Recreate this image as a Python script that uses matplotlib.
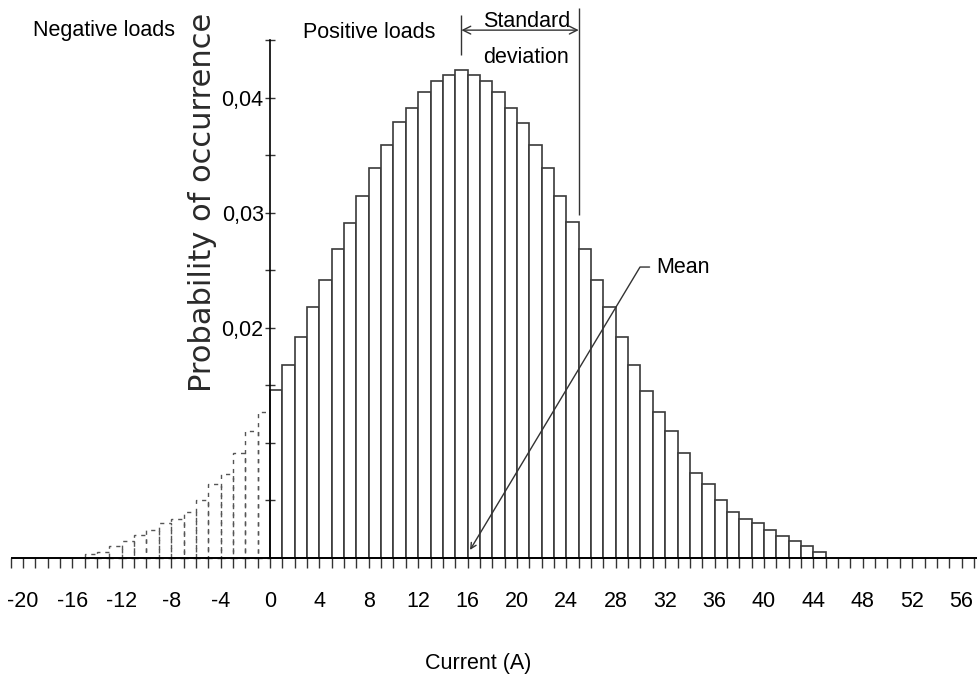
import matplotlib
matplotlib.use("Agg")
import matplotlib.pyplot as plt
from matplotlib.ticker import FixedLocator, MultipleLocator, FixedFormatter

# probability per 1 A bin, bins start at the listed current
neg_edges = list(range(-15, 0))
neg_prob = [0.00035, 0.0005, 0.001, 0.0015, 0.002, 0.0024, 0.003, 0.0034,
            0.004, 0.005, 0.0064, 0.0073, 0.0091, 0.011, 0.0127]

pos_edges = list(range(0, 45))
pos_prob = [0.0146, 0.0168, 0.0192, 0.0218, 0.0242, 0.0269, 0.0291, 0.0315,
            0.0339, 0.0359, 0.0379, 0.0391, 0.0405, 0.0415, 0.042, 0.0424,
            0.042, 0.0415, 0.0405, 0.0391, 0.0378, 0.0359, 0.0339, 0.0315,
            0.0292, 0.0269, 0.0242, 0.0218, 0.0192, 0.0168, 0.0145, 0.0127,
            0.011, 0.0091, 0.0074, 0.0064, 0.005, 0.004, 0.0034, 0.003,
            0.0024, 0.0019, 0.0015, 0.001, 0.0005]

mean_current = 15.5
std_current = 9.5

x_labels = [-20, -16, -12, -8, -4, 0, 4, 8, 12, 16, 20, 24, 28, 32, 36, 40, 44, 48, 52, 56]
y_label_vals = [0.02, 0.03, 0.04]
y_label_text = ["0,02", "0,03", "0,04"]

sans = ["Liberation Sans", "DejaVu Sans"]
fs = 15.5

fig = plt.figure(figsize=(9.77, 6.83), dpi=100)
ax = fig.add_axes([0, 0, 1, 1])
ax.set_xlim(-21.86, 57.25)
ax.set_ylim(-0.01087, 0.04852)

# dashed bars for negative loads, solid ones for positive loads
ax.bar(neg_edges, neg_prob, width=1, align="edge", facecolor="none",
       edgecolor="#555555", linewidth=1.0, linestyle=(0, (3, 3.5)))
ax.bar(pos_edges, pos_prob, width=1, align="edge", facecolor="white",
       edgecolor="#3a3a3a", linewidth=1.2)

# axes drawn through the origin
for s in ["top", "right"]:
    ax.spines[s].set_visible(False)
ax.spines["bottom"].set_position(("data", 0))
ax.spines["bottom"].set_bounds(-20.9, 57.25)
ax.spines["left"].set_position(("data", 0))
ax.spines["left"].set_bounds(0, 0.045)
ax.spines["bottom"].set_linewidth(1.4)
ax.spines["left"].set_linewidth(1.2)

ax.xaxis.set_major_locator(FixedLocator(x_labels))
ax.xaxis.set_minor_locator(MultipleLocator(1))
ax.set_xticklabels([str(v) for v in x_labels], family=sans, fontsize=fs)
ax.tick_params(axis="x", which="both", direction="out", length=7, width=1,
               pad=17, color="#333333")

ax.yaxis.set_major_locator(FixedLocator(y_label_vals))
ax.yaxis.set_major_formatter(FixedFormatter(y_label_text))
ax.yaxis.set_minor_locator(FixedLocator([0.005, 0.01, 0.015, 0.025, 0.035, 0.045]))
for lab in ax.get_yticklabels():
    lab.set_family(sans)
    lab.set_fontsize(fs)
ax.tick_params(axis="y", which="both", direction="inout", length=7, width=1,
               pad=1, color="#333333")

ax.text(-5.45, 0.0309, "Probability of occurrence", rotation=90, ha="center",
        va="center", fontsize=22, family="DejaVu Sans", color="#2a2a2a")
ax.text(16.84, -0.0092, "Current (A)", ha="center", va="center",
        fontsize=fs, family=sans)
ax.text(-19.2, 0.0459, "Negative loads", ha="left", va="center",
        fontsize=fs, family=sans)
ax.text(2.67, 0.0457, "Positive loads", ha="left", va="center",
        fontsize=fs, family=sans)
ax.text(20.75, 0.0451, "Standard\ndeviation", ha="center", va="center",
        fontsize=fs, family=sans, linespacing=1.9)

# standard deviation marker
sd_bar_top = pos_prob[pos_edges.index(int(mean_current + std_current) - 1)]
ax.vlines(mean_current, 0.0437, 0.0472, color="#333333", lw=1)
ax.vlines(mean_current + std_current, sd_bar_top + 0.0006, 0.0478,
          color="#333333", lw=1)
ax.annotate("", xy=(mean_current, 0.0459), xytext=(mean_current + std_current, 0.0459),
            arrowprops=dict(arrowstyle="<->", color="#333333", lw=1,
                            shrinkA=0, shrinkB=0, mutation_scale=14))

# mean leader line
ax.annotate("Mean", xy=(mean_current + 0.7, 0.0007), xytext=(31.3, 0.0253),
            ha="left", va="center", fontsize=fs, family=sans,
            annotation_clip=False,
            arrowprops=dict(arrowstyle="->", color="#333333", lw=1,
                            connectionstyle="angle,angleA=0,angleB=59,rad=0",
                            shrinkA=3, shrinkB=0, mutation_scale=10))

fig.savefig("out.png", dpi=100)
